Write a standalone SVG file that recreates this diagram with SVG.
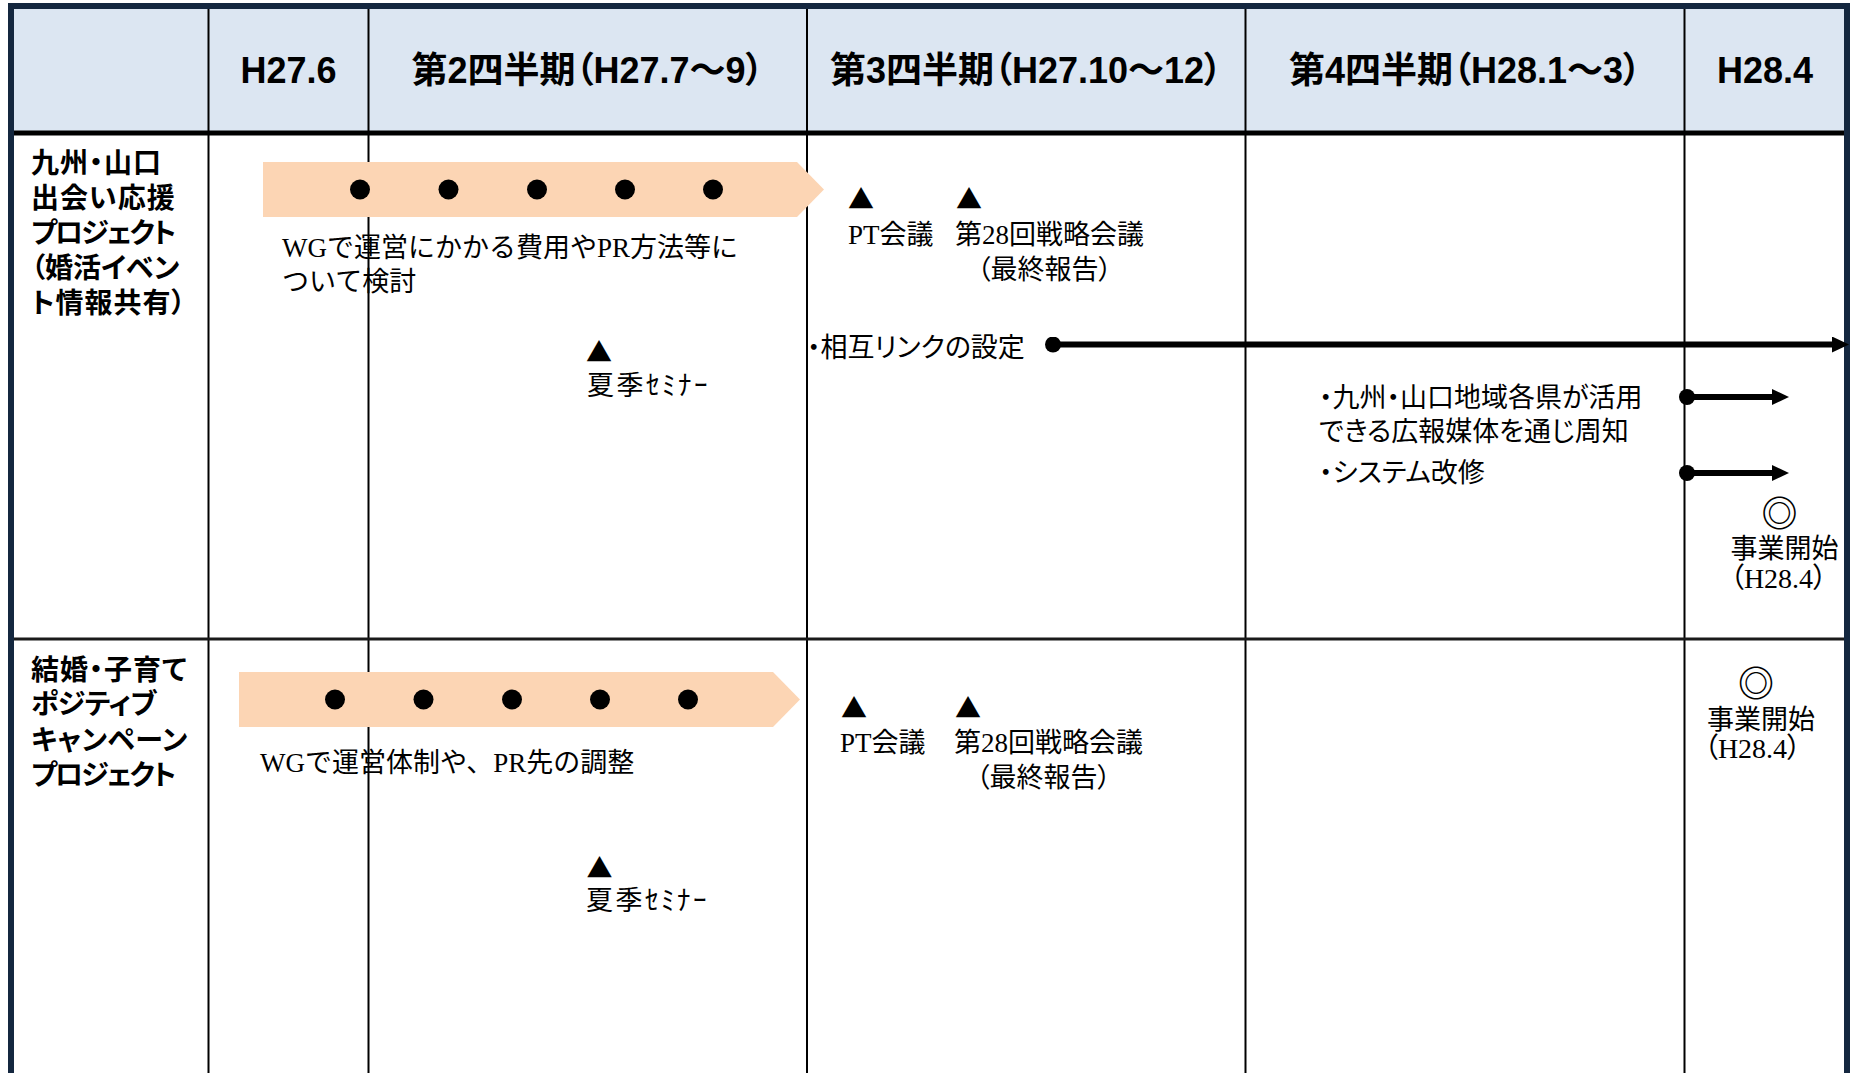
<svg xmlns="http://www.w3.org/2000/svg" width="1856" height="1073" viewBox="0 0 1856 1073">
<style>
.hd{font-family:"Liberation Sans","Noto Sans CJK JP",sans-serif;font-weight:700;font-size:36px;text-anchor:middle;fill:#000;font-feature-settings:"palt"}
.lb{font-family:"Liberation Sans","Noto Sans CJK JP",sans-serif;font-weight:700;font-size:28px;fill:#000;font-feature-settings:"palt";letter-spacing:1px}
.tx{font-family:"Liberation Serif","Noto Sans CJK JP",serif;font-size:27px;fill:#000}
.tp{font-family:"Liberation Serif","Noto Sans CJK JP",serif;font-size:27px;fill:#000;font-feature-settings:"palt"}
.sym{font-family:"Noto Sans CJK JP",sans-serif;font-size:26px;fill:#000;text-anchor:middle}
.dbl{font-family:"Noto Sans CJK JP",sans-serif;font-weight:700;font-size:36px;fill:#000;text-anchor:middle}
.grid{stroke:#000;stroke-width:2;fill:none}
.band{fill:#fcd5b4}
.dot{fill:#000}
.conn{stroke:#000;stroke-width:6;fill:none}
</style>
<defs>
<marker id="head" markerUnits="userSpaceOnUse" markerWidth="17" markerHeight="16" refX="1" refY="8" orient="auto">
<path d="M0,0 L17,8 L0,16 Z" fill="#000"/>
</marker>
<marker id="start" markerUnits="userSpaceOnUse" markerWidth="16" markerHeight="16" refX="8" refY="8" orient="auto">
<circle cx="8" cy="8" r="8" fill="#000"/>
</marker>
</defs>
<rect x="0" y="0" width="1856" height="1073" fill="#fff"/>
<g id="header">
<rect x="14" y="9" width="1830" height="122" fill="#dce6f2"/>
</g>
<g id="grid">
<line class="grid" x1="208.5" y1="9" x2="208.5" y2="1073"/>
<line class="grid" x1="368.5" y1="9" x2="368.5" y2="1073"/>
<line class="grid" x1="807" y1="9" x2="807" y2="1073"/>
<line class="grid" x1="1245.5" y1="9" x2="1245.5" y2="1073"/>
<line class="grid" x1="1684.5" y1="9" x2="1684.5" y2="1073"/>
<line x1="14" y1="133" x2="1844" y2="133" stroke="#000" stroke-width="5"/>
<line x1="14" y1="639" x2="1844" y2="639" stroke="#1a1a1a" stroke-width="3"/>
<path d="M11,1073 V6 H1847 V1073" fill="none" stroke="#14273f" stroke-width="6"/>
</g>
<g id="header-cells">
<text class="hd" x="288.5" y="83">H27.6</text>
<text class="hd" x="587.5" y="83">第2四半期（H27.7～9）</text>
<text class="hd" x="1026" y="83">第3四半期（H27.10～12）</text>
<text class="hd" x="1465" y="83">第4四半期（H28.1～3）</text>
<text class="hd" x="1765" y="83">H28.4</text>
</g>
<g id="row1-label">
<text class="lb" x="31" y="173"><tspan x="31" y="173">九州・山口</tspan><tspan x="31" y="208">出会い応援</tspan><tspan x="31" y="243" letter-spacing="-2">プロジェクト</tspan><tspan x="31" y="278" letter-spacing="0">（婚活イベン</tspan><tspan x="31" y="313">ト情報共有）</tspan></text>
</g>
<g id="row1-wg">
<path class="band" d="M263,162 H797 L824,189.5 L797,217 H263 Z"/>
<circle class="dot" cx="360" cy="189.5" r="10"/>
<circle class="dot" cx="448.5" cy="189.5" r="10"/>
<circle class="dot" cx="537" cy="189.5" r="10"/>
<circle class="dot" cx="625" cy="189.5" r="10"/>
<circle class="dot" cx="713" cy="189.5" r="10"/>
<text class="tx" x="282" y="257"><tspan x="282" y="257">WGで運営にかかる費用やPR方法等に</tspan><tspan x="282" y="291">ついて検討</tspan></text>
</g>
<g id="row1-seminar">
<text class="sym" x="599" y="362">▲</text>
<text class="tx" x="587" y="395" letter-spacing="2.5">夏季ｾﾐﾅｰ</text>
</g>
<g id="row1-pt">
<text class="sym" x="861" y="209">▲</text>
<text class="tp" x="848" y="244">PT会議</text>
</g>
<g id="row1-senryaku">
<text class="sym" x="969" y="209">▲</text>
<text class="tp" x="955" y="244"><tspan x="955" y="244">第28回戦略会議</tspan><tspan x="977" y="279">（最終報告）</tspan></text>
</g>
<g id="row1-link">
<text class="tp" x="807" y="357">・相互リンクの設定</text>
</g>
<g id="row1-koho">
<text class="tp" x="1319" y="407"><tspan x="1319" y="407">・九州・山口地域各県が活用</tspan><tspan x="1319" y="441">できる広報媒体を通じ周知</tspan></text>
</g>
<g id="row1-system">
<text class="tp" x="1319" y="482">・システム改修</text>
</g>
<g id="row1-start">
<text class="dbl" x="1779.5" y="527">◎</text>
<text class="tp" x="1784.5" y="558" text-anchor="middle"><tspan x="1784.5" y="558">事業開始</tspan><tspan x="1778.5" y="588" font-size="28">（H28.4）</tspan></text>
</g>
<g id="row2-label">
<text class="lb" x="31" y="680"><tspan x="31" y="680">結婚・子育て</tspan><tspan x="31" y="714" letter-spacing="-0.5">ポジティブ</tspan><tspan x="31" y="750" letter-spacing="0.5">キャンペーン</tspan><tspan x="31" y="785" letter-spacing="-2">プロジェクト</tspan></text>
</g>
<g id="row2-wg">
<path class="band" d="M239,672 H773 L800,699.5 L773,727 H239 Z"/>
<circle class="dot" cx="335" cy="699.5" r="10"/>
<circle class="dot" cx="423.5" cy="699.5" r="10"/>
<circle class="dot" cx="512" cy="699.5" r="10"/>
<circle class="dot" cx="600" cy="699.5" r="10"/>
<circle class="dot" cx="688" cy="699.5" r="10"/>
<text class="tx" x="260" y="772">WGで運営体制や、PR先の調整</text>
</g>
<g id="row2-seminar">
<text class="sym" x="599.5" y="878">▲</text>
<text class="tx" x="586" y="910" letter-spacing="2.5">夏季ｾﾐﾅｰ</text>
</g>
<g id="row2-pt">
<text class="sym" x="854" y="718">▲</text>
<text class="tp" x="840" y="752">PT会議</text>
</g>
<g id="row2-senryaku">
<text class="sym" x="968" y="718">▲</text>
<text class="tp" x="954" y="752"><tspan x="954" y="752">第28回戦略会議</tspan><tspan x="976" y="787">（最終報告）</tspan></text>
</g>
<g id="row2-start">
<text class="dbl" x="1756" y="697">◎</text>
<text class="tp" x="1761" y="729" text-anchor="middle"><tspan x="1761" y="729">事業開始</tspan><tspan x="1752.5" y="758" font-size="28">（H28.4）</tspan></text>
</g>
<g id="connectors">
<line class="conn" x1="1053" y1="344.5" x2="1833" y2="344.5" marker-start="url(#start)" marker-end="url(#head)"/>
<line class="conn" x1="1687" y1="397" x2="1773" y2="397" marker-start="url(#start)" marker-end="url(#head)"/>
<line class="conn" x1="1687" y1="473" x2="1773" y2="473" marker-start="url(#start)" marker-end="url(#head)"/>
</g>
</svg>
